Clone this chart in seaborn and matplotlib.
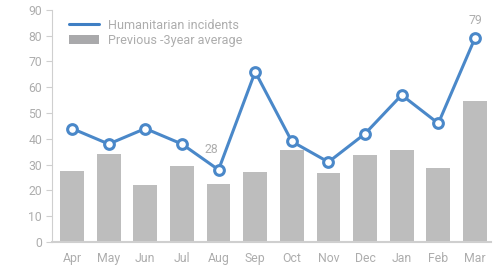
import matplotlib
matplotlib.use("Agg")
import matplotlib.pyplot as plt
import seaborn as sns
import pandas as pd
from matplotlib.lines import Line2D
from matplotlib.patches import Patch

months = ["Apr", "May", "Jun", "Jul", "Aug", "Sep", "Oct", "Nov", "Dec", "Jan", "Feb", "Mar"]
incidents = [44, 38, 44, 38, 28, 66, 39, 31, 42, 57, 46, 79]
avg3yr = [27.5, 34, 22.2, 29.6, 22.6, 27.3, 35.7, 26.9, 33.6, 35.7, 28.7, 54.7]
yticks = [0, 10, 20, 30, 40, 50, 60, 70, 80, 90]

sns.set_style("white")
plt.rcParams["font.family"] = ["Roboto", "DejaVu Sans"]

df = pd.DataFrame({"month": months, "incidents": incidents, "avg": avg3yr})
df["x"] = range(len(months))

TXT = "#adadad"
BAR = "#bdbdbd"
LINE = "#4a88c9"
FS = 8.8

fig, ax = plt.subplots(figsize=(5.04, 2.68), dpi=100)
fig.subplots_adjust(left=0.103, right=0.975, top=0.963, bottom=0.097)

sns.barplot(data=df, x="month", y="avg", color=BAR, width=0.65, ax=ax,
            edgecolor="none", saturation=1)
ax.plot(df["x"], df["incidents"], color=LINE, lw=2.2, marker="o", ms=7,
        mfc="white", mec=LINE, mew=2.2, zorder=5)

ax.text(4 - 0.2, 28 + 5.5, "28", color=TXT, fontsize=FS, ha="center", va="bottom")
ax.text(11, 79 + 4.5, "79", color=TXT, fontsize=FS, ha="center", va="bottom")

ax.set_ylim(0, 90)
ax.set_xlim(-0.55, 11.45)
ax.set_yticks(yticks)
ax.set_xlabel("")
ax.set_ylabel("")
for s in ["top", "right"]:
    ax.spines[s].set_visible(False)
ax.spines["left"].set_color("#cfcfcf")
ax.spines["bottom"].set_color("#cfcfcf")
ax.spines["bottom"].set_linewidth(1.5)
ax.tick_params(axis="y", left=True, length=4, color="#cfcfcf", labelsize=FS, labelcolor=TXT, pad=3)
ax.tick_params(axis="x", bottom=False, labelsize=FS, labelcolor=TXT, pad=4)

handles = [Line2D([0], [0], color="#3f7fc4", lw=2.2),
           Patch(facecolor="#a9a9ab", edgecolor="none")]
leg = ax.legend(handles, ["Humanitarian incidents", "Previous -3year average"],
                loc="upper left", bbox_to_anchor=(0.018, 1.0), frameon=False,
                fontsize=9.1, labelcolor=TXT, handlelength=2.4, handletextpad=0.75,
                labelspacing=0.2, borderpad=0.2)

fig.savefig("out.png", dpi=100)
